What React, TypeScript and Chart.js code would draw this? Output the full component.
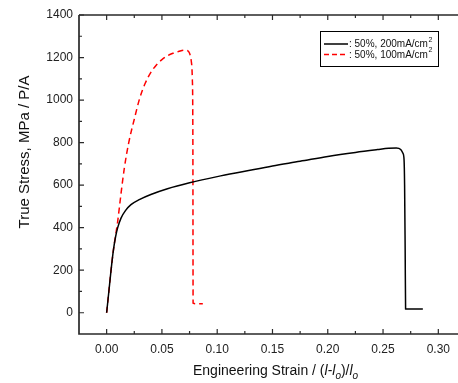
import React, { useEffect, useRef } from "react";
import { Chart, registerables } from "chart.js";

Chart.register(...registerables);

// ---- data ----
const strain200 = [0, 0.002, 0.004, 0.006, 0.008, 0.010, 0.013, 0.017, 0.022, 0.030, 0.040, 0.055, 0.075, 0.100, 0.125, 0.150, 0.175, 0.200, 0.225, 0.245, 0.255, 0.262, 0.266, 0.268, 0.269, 0.2695, 0.2700, 0.2704, 0.275, 0.280, 0.286];
const stress200 = [0, 100, 200, 290, 355, 400, 445, 480, 508, 533, 556, 583, 611, 640, 665, 690, 712, 735, 754, 767, 773, 775, 768, 750, 720, 600, 300, 18, 17, 17, 17];

const strain100 = [0, 0.002, 0.004, 0.006, 0.008, 0.010, 0.013, 0.016, 0.020, 0.025, 0.030, 0.035, 0.040, 0.045, 0.050, 0.055, 0.060, 0.065, 0.070, 0.073, 0.075, 0.0765, 0.0775, 0.0780, 0.0782, 0.082, 0.087];
const stress100 = [0, 100, 200, 290, 360, 430, 560, 680, 800, 910, 1010, 1080, 1130, 1165, 1190, 1208, 1220, 1228, 1235, 1233, 1220, 1185, 1100, 800, 45, 42, 42];

const seriesLabels = [": 50%, 200mA/cm", ": 50%, 100mA/cm"];
const seriesSup = "2";
const yTitle = "True Stress, MPa / P/A";
const xMin = -0.025;
const xMax = 0.3172;
const yMin = -100;
const yMax = 1400;
const xStep = 0.05;
const yStep = 200;

const FONT = "'Liberation Sans', Arial, sans-serif";

const zip = (xs: number[], ys: number[]) => xs.map((x, i) => ({ x, y: ys[i] }));

const framePlugin = {
  id: "frameAndLabels",
  afterDraw(chart: any) {
    const { ctx, chartArea: a, scales } = chart;
    const xs = scales.x;
    const ys = scales.y;
    ctx.save();
    // frame
    ctx.strokeStyle = "#2a2a2a";
    ctx.lineWidth = 1.7;
    ctx.beginPath();
    ctx.moveTo(a.left, a.top);
    ctx.lineTo(a.right + 2, a.top);
    ctx.moveTo(a.left, a.top);
    ctx.lineTo(a.left, a.bottom);
    ctx.lineTo(a.right + 2, a.bottom);
    ctx.stroke();
    // inward ticks
    ctx.lineWidth = 1.2;
    ctx.beginPath();
    for (let i = 0; i <= 14; i++) {
      const v = i * (xStep / 2);
      const px = xs.getPixelForValue(v);
      if (px > a.right) break;
      const len = i % 2 === 0 ? 5 : 3;
      ctx.moveTo(px, a.bottom);
      ctx.lineTo(px, a.bottom - len);
      ctx.moveTo(px, a.top);
      ctx.lineTo(px, a.top + len);
    }
    for (let i = 0; i <= 14; i++) {
      const v = i * (yStep / 2);
      const py = ys.getPixelForValue(v);
      const len = i % 2 === 0 ? 5 : 3;
      ctx.moveTo(a.left, py);
      ctx.lineTo(a.left + len, py);
    }
    ctx.stroke();

    // y title
    ctx.fillStyle = "#111";
    ctx.font = `15px ${FONT}`;
    ctx.textAlign = "center";
    ctx.textBaseline = "middle";
    ctx.save();
    ctx.translate(25, 152);
    ctx.rotate(-Math.PI / 2);
    ctx.fillText(yTitle, 0, 0);
    ctx.restore();

    // x title with italic l and subscript o
    const parts: [string, string, number][] = [
      ["Engineering Strain / (", `14px ${FONT}`, 0],
      ["l", `italic 14px ${FONT}`, 0],
      ["-", `14px ${FONT}`, 0],
      ["l", `italic 14px ${FONT}`, 0],
      ["o", `italic 10px ${FONT}`, 4],
      [")/", `14px ${FONT}`, 0],
      ["l", `italic 14px ${FONT}`, 0],
      ["o", `italic 10px ${FONT}`, 4],
    ];
    ctx.textAlign = "left";
    ctx.textBaseline = "alphabetic";
    let cx = 193;
    const base = 375;
    for (const [t, f, dy] of parts) {
      ctx.font = f;
      ctx.fillText(t, cx, base + dy);
      cx += ctx.measureText(t).width;
    }

    // legend box
    const bx = 320.5, by = 31.5, bw = 118, bh = 35;
    ctx.fillStyle = "#fff";
    ctx.fillRect(bx, by, bw, bh);
    ctx.strokeStyle = "#000";
    ctx.lineWidth = 1;
    ctx.strokeRect(bx, by, bw, bh);
    const rows = [
      { y: 44, color: "#000", dash: [] as number[] },
      { y: 54.5, color: "#ff0000", dash: [5, 3] },
    ];
    rows.forEach((r, i) => {
      ctx.strokeStyle = r.color;
      ctx.lineWidth = 1.5;
      ctx.setLineDash(r.dash);
      ctx.beginPath();
      ctx.moveTo(324, r.y);
      ctx.lineTo(348, r.y);
      ctx.stroke();
      ctx.setLineDash([]);
      ctx.fillStyle = "#111";
      ctx.font = `10px ${FONT}`;
      ctx.textBaseline = "middle";
      ctx.fillText(seriesLabels[i], 349, r.y + 0.5);
      const w = ctx.measureText(seriesLabels[i]).width;
      ctx.font = `7px ${FONT}`;
      ctx.fillText(seriesSup, 349 + w + 0.5, r.y - 4);
    });
    ctx.restore();
  },
};

export default function App() {
  const ref = useRef<HTMLCanvasElement>(null);
  useEffect(() => {
    if (!ref.current) return;
    const chart = new Chart(ref.current, {
      type: "line",
      data: {
        datasets: [
          {
            label: "50%, 200mA/cm2",
            data: zip(strain200, stress200),
            borderColor: "#000",
            borderWidth: 1.5,
            pointRadius: 0,
            cubicInterpolationMode: "monotone",
            fill: false,
          },
          {
            label: "50%, 100mA/cm2",
            data: zip(strain100, stress100),
            borderColor: "#ff0000",
            borderWidth: 1.5,
            borderDash: [6, 4],
            pointRadius: 0,
            cubicInterpolationMode: "monotone",
            fill: false,
          },
        ],
      },
      options: {
        responsive: false,
        animation: false,
        devicePixelRatio: 1,
        layout: { padding: { top: 15, right: 0, left: 0, bottom: 0 } },
        plugins: { legend: { display: false }, title: { display: false }, tooltip: { enabled: false } },
        scales: {
          x: {
            type: "linear",
            min: xMin,
            max: xMax,
            grid: { display: false, drawTicks: false },
            border: { display: false },
            ticks: {
              stepSize: xStep,
              includeBounds: false,
              autoSkip: false,
              maxRotation: 0,
              padding: 8,
              color: "#222",
              font: { family: FONT, size: 12 },
              callback: (v: any) => Number(v).toFixed(2),
            },
            afterFit: (s: any) => {
              s.height = 49;
            },
          },
          y: {
            type: "linear",
            min: yMin,
            max: yMax,
            grid: { display: false, drawTicks: false },
            border: { display: false },
            ticks: {
              stepSize: yStep,
              includeBounds: false,
              padding: 6,
              color: "#222",
              font: { family: FONT, size: 12 },
              callback: (v: any) => String(Math.round(Number(v))),
            },
            afterFit: (s: any) => {
              s.width = 79;
            },
          },
        },
      },
      plugins: [framePlugin],
    });
    return () => chart.destroy();
  }, []);
  return (
    <canvas
      ref={ref}
      width={458}
      height={383}
      style={{ position: "absolute", left: 0, top: 0, display: "block" }}
    />
  );
}
